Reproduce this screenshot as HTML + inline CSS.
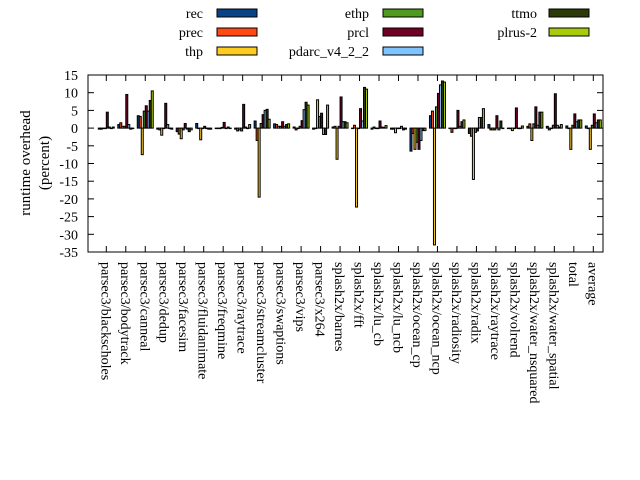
<!DOCTYPE html>
<html><head><meta charset="utf-8"><style>
html,body{margin:0;padding:0;background:#fff;}
svg{display:block;font-family:"Liberation Serif",serif;}
</style></head><body>
<svg id="s" width="640" height="480" xmlns="http://www.w3.org/2000/svg"></svg>
<script>
const s=document.getElementById('s');
let h='';
const X0=88,X1=603,Y0=75,Y1=252;
const sc=(Y1-Y0)/50;
const y=v=>Y0+(15-v)*sc;
const cols=['#0a4286','#ff4a12','#ffcc22','#4f9a1f','#700024','#80c4ff','#2c3a08','#a8cc0a'];
const names=['rec','prec','thp','ethp','prcl','pdarc_v4_2_2','ttmo','plrus-2'];
const labels=['parsec3/blackscholes','parsec3/bodytrack','parsec3/canneal','parsec3/dedup','parsec3/facesim','parsec3/fluidanimate','parsec3/freqmine','parsec3/raytrace','parsec3/streamcluster','parsec3/swaptions','parsec3/vips','parsec3/x264','splash2x/barnes','splash2x/fft','splash2x/lu_cb','splash2x/lu_ncb','splash2x/ocean_cp','splash2x/ocean_ncp','splash2x/radiosity','splash2x/radix','splash2x/raytrace','splash2x/volrend','splash2x/water_nsquared','splash2x/water_spatial','total','average'];
const D=[
[-0.3,-0.3,0,0,4.5,0.3,0,0.3],
[1,1.5,0.5,0.5,9.5,1,-0.3,0],
[3.5,3.3,-7.5,4.8,6.3,4.8,7.8,10.5],
[-0.3,-0.5,-2,0,7,1,0,-0.3],
[-1,-1.7,-3,-0.5,1.3,-0.3,-1,-0.5],
[1.3,0,-3.3,0,0.5,0,-0.3,-0.3],
[0,0,0,0.2,1.6,0,0.3,0],
[-0.3,-0.8,-0.5,-0.8,6.7,0.3,0,1],
[2,-3.5,-19.5,1.3,3.8,5,5.3,2.5],
[1.2,1,0.5,0.5,1.8,0.5,1,1.2],
[0.3,-0.5,0,0.5,2.1,5.2,7.3,6.5],
[-0.3,0,8,3.3,4.2,-1.8,-1.8,6.5],
[0.3,0.5,-8.8,0.5,8.8,1.8,1.8,1.5],
[0,0.8,-22.3,0,5.5,2,11.5,11],
[-0.3,0.3,0,0,2,0.3,0.2,0.7],
[-0.3,-0.3,-1.3,0,0,0.5,-0.5,-0.3],
[-6.5,-1.5,-6,-4,-6,-3.5,-0.7,-0.7],
[3.5,4.8,-33,6,9.8,12.2,13.3,13],
[0,-1.2,0,0,5,0.5,1.8,2.3],
[-1.5,-2.3,-14.5,-1.2,-0.8,3,3,5.5],
[1,-0.5,-0.5,-0.5,3.5,-0.5,2,0],
[0,0,-0.7,0,5.7,0,0,0.6],
[0.5,1.2,-3.5,1.2,6,0.8,4.5,4.5],
[0.5,-0.5,0,0.8,9.7,0.8,0.3,1],
[0.6,0,-6,0.8,4,1.8,2.3,2.3],
[0.6,0,-6,0.8,4,1.5,2.3,2.3]];
const cx=i=>106.3+i*19.48;
for(let v=15;v>=-35;v-=5){const yy=y(v);
 h+=`<line x1="${X0}" x2="${X0+6}" y1="${yy}" y2="${yy}" stroke="#000"/><line x1="${X1}" x2="${X1-6}" y1="${yy}" y2="${yy}" stroke="#000"/>`;
 h+=`<text x="78" y="${yy+5}" font-size="14" text-anchor="end">${v}</text>`;}
D.forEach((g,i)=>{const c=cx(i);
 h+=`<line x1="${c}" x2="${c}" y1="${Y0}" y2="${Y0+6}" stroke="#000"/><line x1="${c}" x2="${c}" y1="${Y1}" y2="${Y1-6}" stroke="#000"/>`;
 g.forEach((v,k)=>{const x=c-8+k*2;const a=y(Math.max(v,0)),b=y(Math.min(v,0));
  h+=`<rect x="${x}" y="${a}" width="2" height="${Math.max(b-a,0.5)}" fill="${cols[k]}" stroke="#000" stroke-width="1"/>`;});
 h+=`<text transform="translate(${c-5},262) rotate(90)" font-size="14">${labels[i]}</text>`;
});
h+=`<rect x="${X0}" y="${Y0}" width="${X1-X0}" height="${Y1-Y0}" fill="none" stroke="#000"/>`;
const lx=[[203,217],[369,383],[537,549]];
const ly=[13,32,51];
const order=[[0,0],[0,1],[0,2],[1,0],[1,1],[1,2],[2,0],[2,1]];
order.forEach(([c,r],k)=>{
 h+=`<text x="${lx[c][0]}" y="${ly[r]+5}" font-size="14" text-anchor="end">${names[k]}</text>`;
 h+=`<rect x="${lx[c][1]}" y="${ly[r]-4}" width="40" height="8" fill="${cols[k]}" stroke="#000"/>`;});
h+=`<text transform="translate(30,163) rotate(-90)" font-size="15" text-anchor="middle">runtime overhead</text>`;
h+=`<text transform="translate(49,163) rotate(-90)" font-size="15" text-anchor="middle">(percent)</text>`;
s.innerHTML=h;
</script>
</body></html>
